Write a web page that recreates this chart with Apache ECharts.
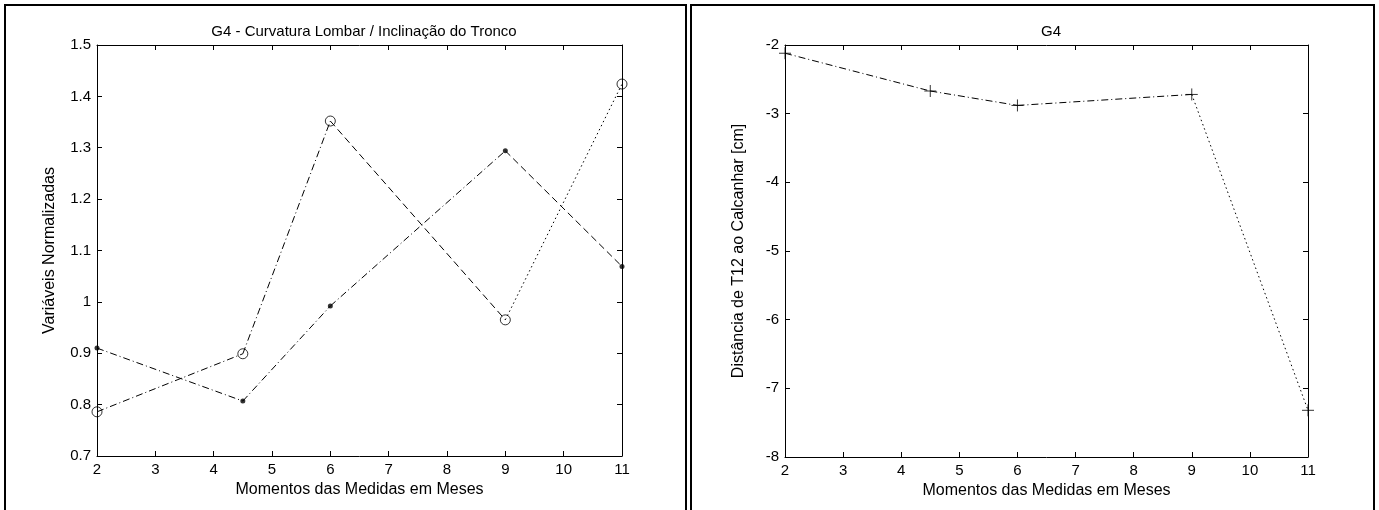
<!DOCTYPE html>
<html>
<head>
<meta charset="utf-8">
<script src="https://cdn.jsdelivr.net/npm/echarts@6/dist/echarts.min.js"></script>
<style>
  html, body { margin: 0; padding: 0; background: #fff; }
  #chart { width: 1379px; height: 510px; }
</style>
</head>
<body>
<div id="chart"></div>
<script>
// Measurement moments (months)
const months = [2, 4.5, 6, 9, 11];

// Left panel: normalised variables
const curvaturaLombar = [0.786, 0.899, 1.352, 0.965, 1.424];   // open circles
const inclinacaoTronco = [0.910, 0.807, 0.992, 1.294, 1.069];  // small dots

// Right panel: T12-to-heel distance [cm]
const distanciaT12 = [-2.12, -2.67, -2.88, -2.72, -7.32];

// Line style of each segment between consecutive moments
const segStylesCurvatura = ['dashdot', 'dashdot', 'dashed', 'dotted'];
const segStylesInclinacao = ['dashdot', 'dashdot', 'dashdot', 'dashed'];
const segStylesDistancia = ['dashdot', 'dashdot', 'dashdot', 'dotted'];

// Axis ranges / tick steps
const xTicks = { min: 2, max: 11, interval: 1 };
const yLeftTicks = { min: 0.7, max: 1.5, interval: 0.1 };
const yRightTicks = { min: -8, max: -2, interval: 1 };

const dashPatterns = {
  dashdot: [7, 3, 1, 3],
  dashed: [7, 4],
  dotted: [1.5, 3]
};

const FONT = 'Liberation Sans';

function segmentSeries(xs, ys, styles, axisIdx) {
  const out = [];
  for (let i = 0; i < xs.length - 1; i++) {
    out.push({
      type: 'line',
      xAxisIndex: axisIdx, yAxisIndex: axisIdx,
      data: [[xs[i], ys[i]], [xs[i + 1], ys[i + 1]]],
      symbol: 'none',
      silent: true,
      animation: false,
      lineStyle: { color: '#000', width: 1, type: dashPatterns[styles[i]] },
      z: 2
    });
  }
  return out;
}

function markerSeries(xs, ys, axisIdx, marker) {
  return {
    type: 'scatter',
    xAxisIndex: axisIdx, yAxisIndex: axisIdx,
    data: xs.map((x, i) => [x, ys[i]]),
    symbol: marker.symbol,
    symbolSize: marker.size,
    itemStyle: marker.style,
    animation: false,
    silent: true,
    z: 3
  };
}

const tickLabel = { color: '#000', fontFamily: FONT, fontSize: 15, margin: 6 };
const axisLine = { show: true, onZero: false, lineStyle: { color: '#000', width: 1 } };
const axisTick = { show: true, inside: true, length: 5, lineStyle: { color: '#000', width: 1 } };
const nameStyle = { color: '#000', fontFamily: FONT, fontSize: 16 };

function xAxes(grid) {
  return [
    {
      type: 'value', gridIndex: grid, position: 'bottom',
      min: xTicks.min, max: xTicks.max, interval: xTicks.interval,
      axisLine, axisTick, axisLabel: tickLabel, splitLine: { show: false },
      name: 'Momentos das Medidas em Meses', nameLocation: 'middle', nameGap: 24,
      nameTextStyle: nameStyle
    },
    {
      type: 'value', gridIndex: grid, position: 'top',
      min: xTicks.min, max: xTicks.max, interval: xTicks.interval,
      axisLine, axisTick, axisLabel: { show: false }, splitLine: { show: false }
    }
  ];
}

function yAxes(grid, ticks, name, gap) {
  return [
    {
      type: 'value', gridIndex: grid, position: 'left',
      min: ticks.min, max: ticks.max, interval: ticks.interval,
      axisLine, axisTick, axisLabel: tickLabel, splitLine: { show: false },
      name: name, nameLocation: 'middle', nameGap: gap,
      nameTextStyle: nameStyle
    },
    {
      type: 'value', gridIndex: grid, position: 'right',
      min: ticks.min, max: ticks.max, interval: ticks.interval,
      axisLine, axisTick, axisLabel: { show: false }, splitLine: { show: false }
    }
  ];
}

// Axes 0/1 belong to the left panel, 2/3 to the right panel
const xa = [...xAxes(0), ...xAxes(1)];
const ya = [
  ...yAxes(0, yLeftTicks, 'Variáveis Normalizadas', 39),
  ...yAxes(1, yRightTicks, 'Distância de T12 ao Calcanhar [cm]', 38)
];

const series = [
  ...segmentSeries(months, curvaturaLombar, segStylesCurvatura, 0),
  ...segmentSeries(months, inclinacaoTronco, segStylesInclinacao, 0),
  markerSeries(months, curvaturaLombar, 0, {
    symbol: 'circle', size: 10,
    style: { color: 'rgba(0,0,0,0)', borderColor: '#000', borderWidth: 1 }
  }),
  markerSeries(months, inclinacaoTronco, 0, {
    symbol: 'circle', size: 5, style: { color: '#000' }
  }),
  ...segmentSeries(months, distanciaT12, segStylesDistancia, 2),
  markerSeries(months, distanciaT12, 2, {
    symbol: 'path://M0,6L12,6M6,0L6,12', size: 12,
    style: { color: 'none', borderColor: '#000', borderWidth: 1 }
  })
];

const option = {
  backgroundColor: '#fff',
  animation: false,
  grid: [
    { left: 97, right: 1379 - 622, top: 45, bottom: 510 - 456 },
    { left: 785, right: 1379 - 1308, top: 45, bottom: 510 - 457 }
  ],
  title: [
    {
      text: 'G4 - Curvatura Lombar / Inclinação do Tronco',
      left: 359, top: 19, textAlign: 'center',
      textStyle: { color: '#000', fontFamily: FONT, fontSize: 15, fontWeight: 'normal' }
    },
    {
      text: 'G4',
      left: 1046, top: 19, textAlign: 'center',
      textStyle: { color: '#000', fontFamily: FONT, fontSize: 15, fontWeight: 'normal' }
    }
  ],
  xAxis: xa,
  yAxis: ya,
  series: series,
  graphic: [
    { type: 'rect', shape: { x: 5, y: 5, width: 681, height: 540 },
      style: { fill: 'none', stroke: '#000', lineWidth: 2 }, silent: true },
    { type: 'rect', shape: { x: 691, y: 5, width: 683, height: 540 },
      style: { fill: 'none', stroke: '#000', lineWidth: 2 }, silent: true }
  ]
};

// Each series uses the y axis with the same index as its x axis
option.series.forEach(s => { s.yAxisIndex = s.xAxisIndex; });

const chart = echarts.init(document.getElementById('chart'), null, { renderer: 'canvas' });
chart.setOption(option);
</script>
</body>
</html>
